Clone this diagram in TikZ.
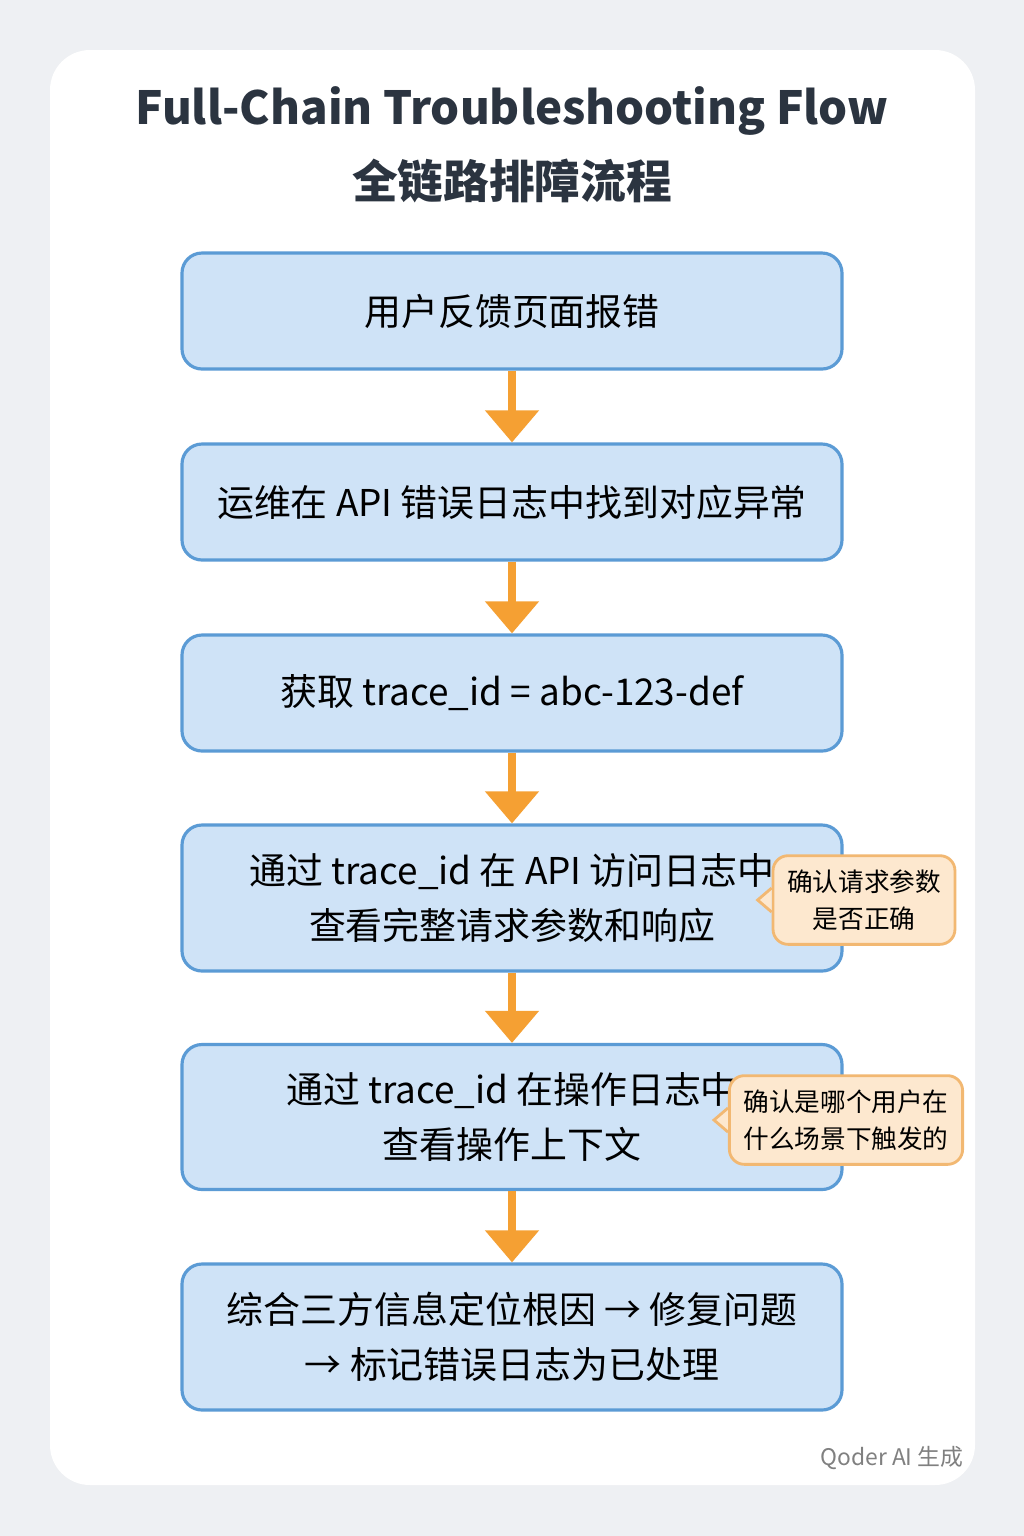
\documentclass[tikz,border=0pt]{standalone}
\usepackage{fontspec}
\setmainfont{Noto Sans CJK SC}
\usetikzlibrary{positioning,arrows.meta}
\definecolor{pagebg}{HTML}{EEF0F3}
\definecolor{titlec}{HTML}{2B3440}
\definecolor{stepfill}{HTML}{CFE3F7}
\definecolor{stepline}{HTML}{5B9BD5}
\definecolor{flowc}{HTML}{F5A033}
\definecolor{notefill}{HTML}{FDE8CF}
\definecolor{noteline}{HTML}{F2B872}
\begin{document}
\begin{tikzpicture}[x=0.1mm,y=-0.1mm,
    stage box/.style={draw=stepline,line width=0.9pt,fill=stepfill,rounded corners=2mm,
      minimum width=66mm,align=center,font=\fontsize{10.5}{15.5}\selectfont,text=black},
    note box/.style={draw=noteline,line width=0.8pt,fill=notefill,rounded corners=1.5mm,
      align=center,font=\fontsize{7.3}{10.5}\selectfont,inner sep=1.4mm,text=black},
    flow/.style={draw=flowc,line width=2.4pt,-{Triangle[length=3.2mm,width=5.2mm]}}]
  \useasboundingbox (0,0) rectangle (1024,1536);
  \fill[pagebg] (0,0) rectangle (1024,1536);
  \fill[white,rounded corners=4mm] (50,50) rectangle (975,1485);
  \node[font=\fontsize{13}{21}\selectfont\bfseries,text=titlec,align=center] (title) at (512,145)
    {Full-Chain Troubleshooting Flow\\全链路排障流程};
  % steps
  \node[stage box,minimum height=11.6mm] (s1) at (512,311) {用户反馈页面报错};
  \node[stage box,minimum height=11.6mm] (s2) at (512,502) {运维在 API 错误日志中找到对应异常};
  \node[stage box,minimum height=11.6mm] (s3) at (512,693) {获取 trace\_id = abc-123-def};
  \node[stage box,minimum height=14.6mm] (s4) at (512,898) {通过 trace\_id 在 API 访问日志中\\查看完整请求参数和响应};
  \node[stage box,minimum height=14.5mm] (s5) at (512,1117) {通过 trace\_id 在操作日志中\\查看操作上下文};
  \node[stage box,minimum height=14.6mm] (s6) at (512,1337) {综合三方信息定位根因 → 修复问题\\→ 标记错误日志为已处理};
  \foreach \a/\b in {s1/s2,s2/s3,s3/s4,s4/s5,s5/s6}
    \draw[flow] (\a.south) -- (\b.north);
  % notes
  \node[note box] (n1) at (864,900) {确认请求参数\\是否正确};
  \node[note box] (n2) at (846,1120) {确认是哪个用户在\\什么场景下触发的};
  \foreach \n in {n1,n2}{
    \fill[notefill] ([yshift=-1.2mm]\n.west) -- ++(-1.4mm,1.2mm) -- ++(1.4mm,1.2mm) -- cycle;
    \draw[noteline,line width=0.8pt] ([yshift=-1.2mm]\n.west) -- ++(-1.4mm,1.2mm) -- ++(1.4mm,1.2mm);
  }
  \node[text=gray,font=\fontsize{6.5}{8}\selectfont] (mark) at (892,1458) {Qoder AI 生成};
\end{tikzpicture}
\end{document}
